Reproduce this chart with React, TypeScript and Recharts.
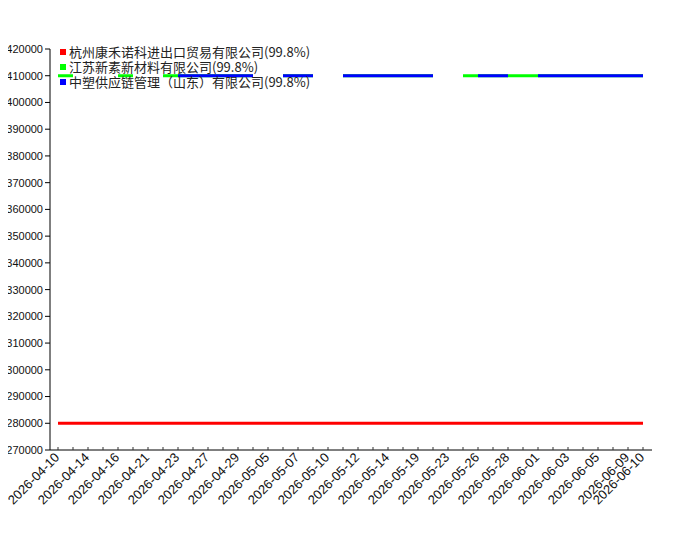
import React from 'react';
import { LineChart, Line, XAxis, YAxis } from 'recharts';

const dates = [
  '2026-04-10', '2026-04-13', '2026-04-14', '2026-04-15', '2026-04-16', '2026-04-20', '2026-04-21', '2026-04-22',
  '2026-04-23', '2026-04-24', '2026-04-27', '2026-04-28', '2026-04-29', '2026-04-30', '2026-05-05', '2026-05-06',
  '2026-05-07', '2026-05-08', '2026-05-10', '2026-05-11', '2026-05-12', '2026-05-13', '2026-05-14', '2026-05-15',
  '2026-05-19', '2026-05-20', '2026-05-23', '2026-05-25', '2026-05-26', '2026-05-27', '2026-05-28', '2026-05-29',
  '2026-06-01', '2026-06-02', '2026-06-03', '2026-06-04', '2026-06-05', '2026-06-08', '2026-06-09', '2026-06-10',
];

const seriesNames = [
  '杭州康禾诺科进出口贸易有限公司(99.8%)',
  '江苏新素新材料有限公司(99.8%)',
  '中塑供应链管理（山东）有限公司(99.8%)',
];
const seriesColors = ['#ff0000', '#00ff00', '#0000ff'];

const kanghe = [
  280000, 280000, 280000, 280000, 280000, 280000, 280000, 280000, 280000, 280000,
  280000, 280000, 280000, 280000, 280000, 280000, 280000, 280000, 280000, 280000,
  280000, 280000, 280000, 280000, 280000, 280000, 280000, 280000, 280000, 280000,
  280000, 280000, 280000, 280000, 280000, 280000, 280000, 280000, 280000, 280000,
];
const xinsu = [
  410000, 410000, null, null, 410000, 410000, null, 410000, 410000, 410000,
  410000, 410000, 410000, 410000, null, 410000, 410000, 410000, null, 410000,
  410000, 410000, 410000, 410000, 410000, 410000, null, 410000, 410000, 410000,
  410000, 410000, 410000, 410000, 410000, 410000, 410000, 410000, 410000, 410000,
];
const zhongsu = [
  null, null, null, null, null, null, null, null, 410000, 410000,
  410000, 410000, 410000, 410000, null, 410000, 410000, 410000, null, 410000,
  410000, 410000, 410000, 410000, 410000, 410000, null, null, 410000, 410000,
  410000, null, 410000, 410000, 410000, 410000, 410000, 410000, 410000, 410000,
];

const yTicks = [
  270000, 280000, 290000, 300000, 310000, 320000, 330000, 340000,
  350000, 360000, 370000, 380000, 390000, 400000, 410000, 420000,
];

const data = dates.map((d, i) => ({ date: d, s0: kanghe[i], s1: xinsu[i], s2: zhongsu[i] }));

// only every second date gets a label, plus the last one
const DateTick = (props: any) => {
  const { x, y, payload, index } = props;
  if (index % 2 === 1 && index !== dates.length - 1) return null;
  return (
    <g transform={`translate(${x - 1},${y + 8})`}>
      <text
        transform="rotate(-45)"
        textAnchor="end"
        dy="0.35em"
        fontSize={13}
        fontFamily="'Liberation Sans', Arial, sans-serif"
        fill="#111"
      >
        {payload.value}
      </text>
    </g>
  );
};

export default function App() {
  return (
    <div style={{ position: 'relative', width: 692, height: 534, marginLeft: -8 }}>
      <LineChart width={692} height={534} data={data} margin={{ top: 41, right: 40, bottom: 0, left: 0 }}>
        <XAxis
          dataKey="date"
          interval={0}
          height={92}
          padding={{ left: 8, right: 9 }}
          tickSize={-3}
          tickMargin={0}
          tick={<DateTick />}
          stroke="#000"
          tickLine={{ stroke: '#333' }}
        />
        <YAxis
          width={50}
          domain={[270000, 420000]}
          ticks={yTicks}
          allowDataOverflow
          tickSize={5}
          tickMargin={2}
          stroke="#000"
          tick={{ fontSize: 11, fontFamily: "'Liberation Sans', Arial, sans-serif", fill: '#111' }}
        />
        <Line dataKey="s0" stroke={seriesColors[0]} strokeWidth={3} dot={false} isAnimationActive={false} />
        <Line dataKey="s1" stroke={seriesColors[1]} strokeWidth={3} dot={false} isAnimationActive={false} />
        <Line dataKey="s2" stroke={seriesColors[2]} strokeWidth={3} dot={false} isAnimationActive={false} />
      </LineChart>
      <div
        style={{
          position: 'absolute',
          top: 36,
          left: 60,
          fontFamily: "'Noto Sans CJK SC', sans-serif",
          fontSize: 13,
          lineHeight: '15px',
          color: '#222',
        }}
      >
        {seriesNames.map((name, i) => (
          <div key={name} style={{ display: 'flex', alignItems: 'center', whiteSpace: 'nowrap' }}>
            <span style={{ width: 6, height: 6, background: seriesColors[i], marginRight: 3, display: 'inline-block' }} />
            {name}
          </div>
        ))}
      </div>
    </div>
  );
}
